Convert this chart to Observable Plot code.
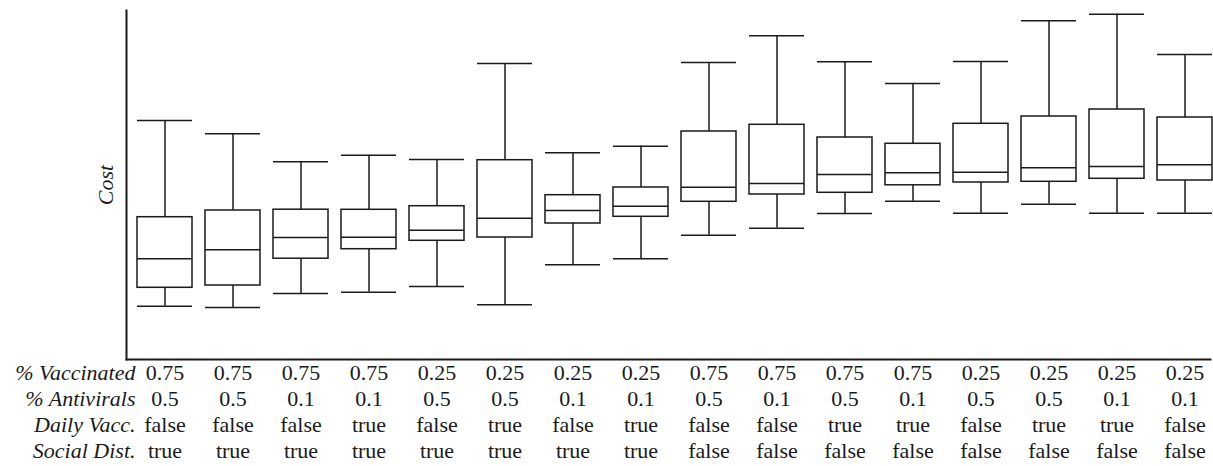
<!DOCTYPE html>
<html>
<head>
<meta charset="utf-8">
<script src="https://cdn.jsdelivr.net/npm/d3@7"></script>
<script src="https://cdn.jsdelivr.net/npm/@observablehq/plot@0.6"></script>
<style>
  html, body { margin: 0; padding: 0; background: #fff; }
  #chart svg { display: block; }
</style>
</head>
<body>
<div id="chart"></div>
<script>
// Scenario keys (one per box)
const scenarios = ["s1","s2","s3","s4","s5","s6","s7","s8","s9","s10","s11","s12","s13","s14","s15","s16"];

// Table labels under each box
const pctVaccinated = ["0.75","0.75","0.75","0.75","0.25","0.25","0.25","0.25","0.75","0.75","0.75","0.75","0.25","0.25","0.25","0.25"];
const pctAntivirals = ["0.5","0.5","0.1","0.1","0.5","0.5","0.1","0.1","0.5","0.1","0.5","0.1","0.5","0.5","0.1","0.1"];
const dailyVacc     = ["false","false","false","true","false","true","false","true","false","false","true","true","false","true","true","false"];
const socialDist    = ["true","true","true","true","true","true","true","true","false","false","false","false","false","false","false","false"];

// Row headers
const rowHeaders = ["% Vaccinated", "% Antivirals", "Daily Vacc.", "Social Dist."];

// Box-plot summary values (cost, arbitrary units)
const whiskerHigh = [239.0, 225.7, 197.7, 204.3, 200.0, 296.0, 206.7, 213.3, 297.0, 323.7, 297.7, 276.0, 298.0, 338.7, 345.3, 305.0];
const q3          = [142.3, 149.0, 149.8, 149.7, 153.3, 199.3, 164.3, 172.0, 228.0, 234.7, 222.0, 215.7, 235.7, 243.0, 250.0, 242.0];
const median      = [100.7, 109.7, 122.0, 122.3, 129.3, 141.3, 149.0, 153.3, 172.3, 176.0, 185.0, 186.7, 187.3, 191.7, 193.0, 194.7];
const q1          = [ 71.7,  74.0, 100.8, 110.3, 118.7, 122.0, 136.0, 142.7, 157.7, 165.0, 166.7, 174.2, 177.0, 177.7, 180.7, 179.0];
const whiskerLow  = [ 53.3,  52.0,  66.0,  67.3,  73.0,  54.7,  94.7, 100.7, 124.3, 131.3, 146.0, 158.3, 146.3, 155.3, 146.3, 146.3];

const data = scenarios.map((s, i) => ({
  s, hi: whiskerHigh[i], q3: q3[i], med: median[i], q1: q1[i], lo: whiskerLow[i],
  vacc: pctVaccinated[i], anti: pctAntivirals[i], daily: dailyVacc[i], social: socialDist[i]
}));

const font = "Liberation Serif";
const ink = "#1a1a1a";
const fs = 22;
const rowDy = [20.5, 46.5, 72.5, 98.5];
const rowFields = ["vacc", "anti", "daily", "social"];

const marks = [
  // whiskers
  Plot.ruleX(data, {x: "s", y1: "lo", y2: "hi", stroke: ink, strokeWidth: 1.5}),
  Plot.tickY(data, {x: "s", y: "hi", stroke: ink, strokeWidth: 1.5}),
  Plot.tickY(data, {x: "s", y: "lo", stroke: ink, strokeWidth: 1.5}),
  // boxes
  Plot.barY(data, {x: "s", y1: "q1", y2: "q3", fill: "white", stroke: ink, strokeWidth: 1.5}),
  // medians
  Plot.tickY(data, {x: "s", y: "med", stroke: ink, strokeWidth: 1.5}),
  // axes lines
  Plot.frame({anchor: "left", stroke: ink, strokeWidth: 2}),
  Plot.frame({anchor: "bottom", stroke: ink, strokeWidth: 2}),
  // y label
  Plot.text(["Cost"], {frameAnchor: "left", dx: -14, rotate: -90, textAnchor: "middle", lineAnchor: "bottom",
    fontSize: 22, fontStyle: "italic", fill: ink}),
];

rowFields.forEach((f, r) => {
  marks.push(Plot.text(data, {x: "s", text: f, frameAnchor: "bottom", lineAnchor: "bottom",
    dy: rowDy[r], fontSize: fs, fill: ink}));
  marks.push(Plot.text([rowHeaders[r]], {frameAnchor: "bottom-left", textAnchor: "end", lineAnchor: "bottom",
    dx: 9, dy: rowDy[r], fontSize: fs, fontStyle: "italic", fill: ink}));
});

const chart = Plot.plot({
  width: 1213,
  height: 466,
  marginLeft: 126,
  marginRight: 3,
  marginTop: 10,
  marginBottom: 107,
  style: {background: "white", overflow: "visible"},
  x: {domain: scenarios, range: [136.8, 1212.4], paddingInner: 0.192, paddingOuter: 0, axis: null},
  y: {domain: [0, 349], axis: null},
  marks
});

// serif face on every label
chart.style.fontFamily = font;
d3.select(chart).selectAll("g, text").attr("font-family", font).style("font-family", font);

document.getElementById("chart").appendChild(chart);
</script>
</body>
</html>
